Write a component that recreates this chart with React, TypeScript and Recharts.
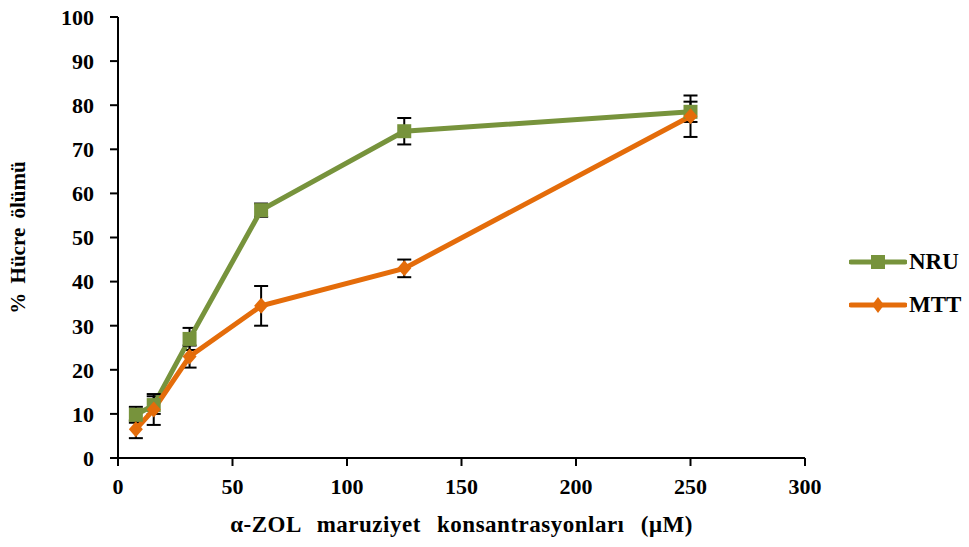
import React from "react";
import { LineChart, Line, XAxis, YAxis, ErrorBar, Legend } from "recharts";

const concentrations = [7.8, 15.6, 31.25, 62.5, 125, 250];
const nruValues = [9.8, 12, 27, 56.2, 74.1, 78.5];
const nruErrors = [1.8, 2, 2.5, 1.5, 3, 2.3];
const mttValues = [6.5, 11, 23, 34.5, 43, 77.5];
const mttErrors = [2, 3.5, 2.5, 4.5, 2, 4.7];
const xTicks = [0, 50, 100, 150, 200, 250, 300];
const yTicks = [0, 10, 20, 30, 40, 50, 60, 70, 80, 90, 100];

const GREEN = "#77933C";
const ORANGE = "#E46C0A";
const FONT = "'Liberation Serif', 'Times New Roman', serif";

const data = concentrations.map((c, i) => ({
  x: c,
  nru: nruValues[i],
  nruErr: nruErrors[i],
  mtt: mttValues[i],
  mttErr: mttErrors[i],
}));

const SquareDot = (props: any) => {
  const { cx, cy } = props;
  if (cx == null || cy == null) return null;
  return <rect x={cx - 7} y={cy - 7} width={14} height={14} fill={GREEN} />;
};

const DiamondDot = (props: any) => {
  const { cx, cy } = props;
  if (cx == null || cy == null) return null;
  return (
    <polygon
      points={`${cx},${cy - 8} ${cx + 7},${cy} ${cx},${cy + 8} ${cx - 7},${cy}`}
      fill={ORANGE}
    />
  );
};

const LegendContent = () => (
  <div style={{ fontFamily: FONT, fontWeight: "bold", fontSize: 23, color: "#000" }}>
    {[
      { name: "NRU", color: GREEN, shape: "square" },
      { name: "MTT", color: ORANGE, shape: "diamond" },
    ].map((it, i) => (
      <div key={it.name} style={{ display: "flex", alignItems: "center", height: 22, marginBottom: i === 0 ? 21 : 0 }}>
        <svg width={58} height={20} style={{ display: "block" }}>
          <line x1={2} y1={10} x2={56} y2={10} stroke={it.color} strokeWidth={5} strokeLinecap="round" />
          {it.shape === "square" ? (
            <rect x={22} y={3} width={14} height={14} fill={it.color} />
          ) : (
            <polygon points="29,2 35,10 29,18 23,10" fill={it.color} />
          )}
        </svg>
        <span style={{ marginLeft: 2, lineHeight: "22px" }}>{it.name}</span>
      </div>
    ))}
  </div>
);

export default function App() {
  return (
    <div style={{ position: "absolute", left: 0, top: 0, width: 969, height: 547, background: "#fff" }}>
      <LineChart
        width={969}
        height={547}
        data={data}
        margin={{ top: 17, right: 164, bottom: 0, left: 0 }}
      >
        <XAxis
          type="number"
          dataKey="x"
          domain={[0, 300]}
          ticks={xTicks}
          interval={0}
          stroke="#000"
          strokeWidth={2}
          tickSize={8}
          tickMargin={12}
          height={89}
          tick={{ fill: "#000", fontFamily: FONT, fontWeight: "bold", fontSize: 22 }}
          label={{
            value: "α-ZOL maruziyet konsantrasyonları (μM)",
            position: "insideBottom",
            offset: 15,
            style: { fill: "#000", fontFamily: FONT, fontWeight: "bold", fontSize: 23, wordSpacing: 10, letterSpacing: 0.5 },
          }}
        />
        <YAxis
          type="number"
          domain={[0, 100]}
          ticks={yTicks}
          interval={0}
          width={118}
          stroke="#000"
          strokeWidth={2}
          tickSize={8}
          tickMargin={16}
          tick={{ fill: "#000", fontFamily: FONT, fontWeight: "bold", fontSize: 22 }}
          label={{
            value: "% Hücre ölümü",
            angle: -90,
            position: "insideLeft",
            offset: 18,
            style: { fill: "#000", fontFamily: FONT, fontWeight: "bold", fontSize: 21, textAnchor: "middle", wordSpacing: 4 },
          }}
        />
        <Legend
          layout="horizontal"
          verticalAlign="middle"
          align="center"
          content={<LegendContent />}
          wrapperStyle={{ position: "absolute", left: 849, top: 251, width: 120, height: 70 }}
        />
        <Line
          dataKey="nru"
          name="NRU"
          stroke={GREEN}
          strokeWidth={5}
          dot={<SquareDot />}
          activeDot={false}
          isAnimationActive={false}
        >
          <ErrorBar dataKey="nruErr" width={7} stroke="#000" strokeWidth={2} direction="y" />
        </Line>
        <Line
          dataKey="mtt"
          name="MTT"
          stroke={ORANGE}
          strokeWidth={5}
          dot={<DiamondDot />}
          activeDot={false}
          isAnimationActive={false}
        >
          <ErrorBar dataKey="mttErr" width={7} stroke="#000" strokeWidth={2} direction="y" />
        </Line>
      </LineChart>
    </div>
  );
}
